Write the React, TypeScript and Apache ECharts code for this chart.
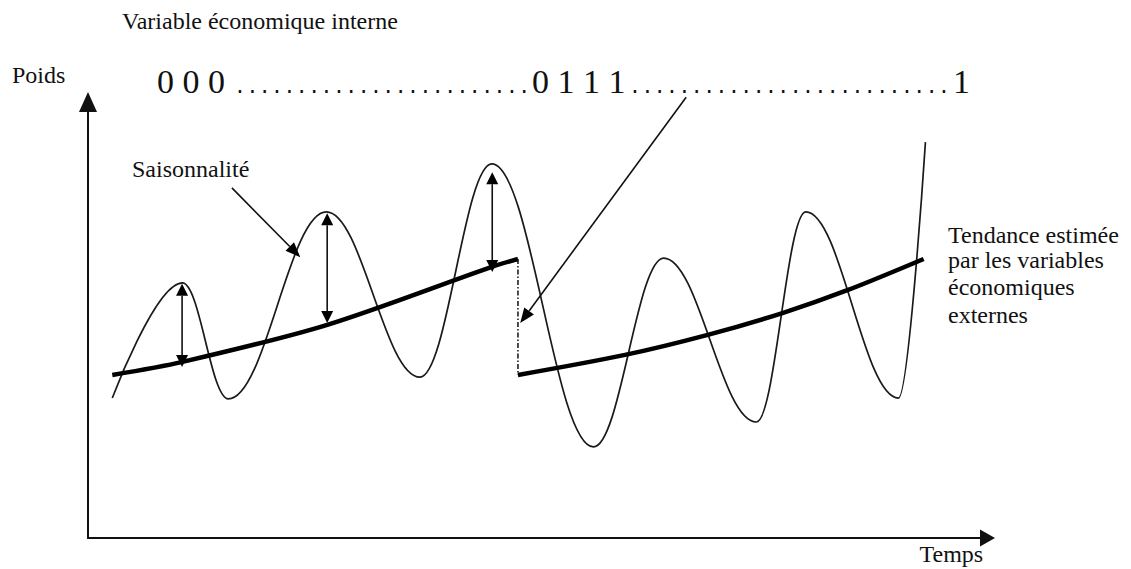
import React, { useEffect, useRef } from "react";
import * as echarts from "echarts";

// ---- data (time 0..100, weight 0..100) ----
// thin seasonal curve, taken at its extremes
const seasonalTime = [2.7, 10.5, 15.6, 26.5, 36.9, 44.9, 56.2, 64.0, 74.3, 79.8, 90.1, 93.1];
const seasonalWeight = [32.1, 58.5, 31.9, 74.8, 36.9, 85.8, 20.9, 64.2, 26.6, 74.8, 32.1, 90.8];

// thick trend lines (estimated by the external variables)
const trend1Time = [2.7, 10.5, 26.6, 44.9, 47.8];
const trend1Weight = [37.4, 40.4, 48.9, 62.2, 64.0];
const trend2Time = [47.8, 59.7, 68.9, 77.2, 84.5, 92.9];
const trend2Weight = [37.4, 42.0, 46.6, 51.6, 56.9, 64.0];

// dash-dot break between the two trends
const breakTime = [47.8, 47.8];
const breakWeight = [64.0, 37.4];

// double arrows (trend -> peak)
const gapTime = [10.46, 26.59, 44.94];
const gapLow = [39.2, 49.3, 61.0];
const gapHigh = [58.3, 74.5, 83.9];

// pointer arrows [fromTime, fromWeight, toTime, toWeight]
const pointerArrows = [
  [16.0, 80.3, 23.6, 64.4],
  [66.5, 101.1, 48.05, 49.3],
];

// texts
const titleText = "Variable économique interne";
const yName = "Poids";
const xName = "Temps";
const seasonText = "Saisonnalité";
const trendText = ["Tendance estimée", "par les variables", "économiques", "externes"];
const codeTexts = ["0 0 0", "0 1 1 1", "1"];
const dotRuns = [24, 26];

const SERIF = "Liberation Serif";
const MONO = "Liberation Mono";

function zip(a: number[], b: number[]) {
  return a.map((v, i) => [v, b[i]]);
}

function textEl(text: string, x: number, y: number, size: number, family = SERIF) {
  return {
    type: "text",
    x,
    y,
    silent: true,
    style: {
      text,
      fontSize: size,
      fontFamily: family,
      fill: "#111",
      align: "left",
      verticalAlign: "middle",
    },
  };
}

export default function App() {
  const ref = useRef<HTMLDivElement>(null);

  useEffect(() => {
    if (!ref.current) return;
    const chart = echarts.init(ref.current, null, { renderer: "svg" });

    const arrowRows: number[][] = [];
    gapTime.forEach((t, i) => arrowRows.push([t, gapLow[i], t, gapHigh[i], 1, 1]));
    pointerArrows.forEach((p) => arrowRows.push([p[0], p[1], p[2], p[3], 0, 1]));

    const axisCommon = {
      type: "value",
      min: 0,
      max: 100,
      axisTick: { show: false },
      axisLabel: { show: false },
      splitLine: { show: false },
    };

    const option: any = {
      animation: false,
      backgroundColor: "#ffffff",
      grid: { left: 88, right: 143.5, top: 102, bottom: 31, outerBoundsMode: "none" },
      xAxis: {
        ...axisCommon,
        axisLine: {
          show: true,
          onZero: false,
          symbol: ["none", "triangle"],
          symbolSize: [17, 15],
          lineStyle: { color: "#111", width: 2 },
        },
      },
      yAxis: {
        ...axisCommon,
        axisLine: {
          show: true,
          onZero: false,
          symbol: ["none", "triangle"],
          symbolSize: [18, 20],
          lineStyle: { color: "#111", width: 2 },
        },
      },
      series: [
        {
          type: "line",
          data: zip(seasonalTime, seasonalWeight),
          smooth: 0.38,
          smoothMonotone: "x",
          showSymbol: false,
          lineStyle: { color: "#1a1a1a", width: 1.7 },
          z: 2,
        },
        {
          type: "line",
          data: zip(trend1Time, trend1Weight),
          smooth: 0.3,
          showSymbol: false,
          lineStyle: { color: "#000", width: 4.5, cap: "butt" },
          z: 3,
        },
        {
          type: "line",
          data: zip(trend2Time, trend2Weight),
          smooth: 0.3,
          showSymbol: false,
          lineStyle: { color: "#000", width: 4.5, cap: "butt" },
          z: 3,
        },
        {
          type: "line",
          data: zip(breakTime, breakWeight),
          showSymbol: false,
          lineStyle: { color: "#111", width: 1.5, type: [5, 2, 1.5, 2] },
          z: 3,
        },
        {
          type: "custom",
          clip: false,
          data: arrowRows,
          encode: { x: [0, 2], y: [1, 3] },
          z: 4,
          renderItem: (params: any, api: any) => {
            const p1 = api.coord([api.value(0), api.value(1)]);
            const p2 = api.coord([api.value(2), api.value(3)]);
            const hs = api.value(4);
            const he = api.value(5);
            const dx = p2[0] - p1[0];
            const dy = p2[1] - p1[1];
            const len = Math.hypot(dx, dy) || 1;
            const ux = dx / len;
            const uy = dy / len;
            const L = hs ? 12 : 15;
            const W = 6;
            const a = hs ? [p1[0] + ux * L, p1[1] + uy * L] : p1;
            const b = he ? [p2[0] - ux * L, p2[1] - uy * L] : p2;
            const children: any[] = [
              {
                type: "line",
                shape: { x1: a[0], y1: a[1], x2: b[0], y2: b[1] },
                style: { stroke: "#111", lineWidth: 1.6 },
              },
            ];
            if (he) {
              children.push({
                type: "polygon",
                shape: {
                  points: [
                    [p2[0], p2[1]],
                    [b[0] - uy * W, b[1] + ux * W],
                    [b[0] + uy * W, b[1] - ux * W],
                  ],
                },
                style: { fill: "#000" },
              });
            }
            if (hs) {
              children.push({
                type: "polygon",
                shape: {
                  points: [
                    [p1[0], p1[1]],
                    [a[0] - uy * W, a[1] + ux * W],
                    [a[0] + uy * W, a[1] - ux * W],
                  ],
                },
                style: { fill: "#000" },
              });
            }
            return { type: "group", children };
          },
        },
      ],
      graphic: [
        textEl(titleText, 122, 20.9, 24),
        textEl(yName, 12, 74.9, 24),
        textEl(seasonText, 132, 168.9, 24),
        textEl(trendText[0], 948, 234.9, 24),
        textEl(trendText[1], 948, 259.9, 24),
        textEl(trendText[2], 948, 286.9, 24),
        textEl(trendText[3], 948, 314.9, 24),
        textEl(xName, 919.5, 553.9, 24),
        textEl(codeTexts[0], 157, 81.5, 34),
        textEl(codeTexts[1], 532, 81.5, 34),
        textEl(codeTexts[2], 953, 81.5, 34),
        textEl(".".repeat(dotRuns[0]), 233.8, 87.8, 20.6, MONO),
        textEl(".".repeat(dotRuns[1]), 628.8, 87.8, 20.6, MONO),
      ],
    };

    chart.setOption(option);
    return () => chart.dispose();
  }, []);

  return (
    <div
      ref={ref}
      style={{ position: "fixed", left: 0, top: 0, width: 1131, height: 569, background: "#fff" }}
    />
  );
}
